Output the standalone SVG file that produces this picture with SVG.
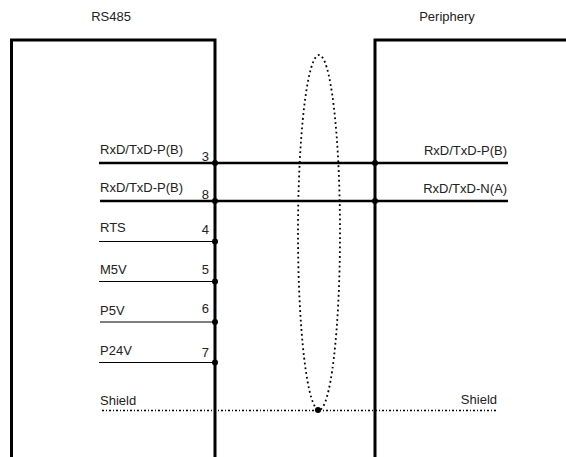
<svg xmlns="http://www.w3.org/2000/svg" width="566" height="457" viewBox="0 0 566 457">
<style>
text{font-family:"Liberation Sans",Arial,sans-serif;font-size:13px;fill:#222}
.r{text-anchor:end}
.thick{stroke:#000;stroke-width:3;fill:none}
.bus{stroke:#000;stroke-width:2.5;fill:none}
.thin{stroke:#000;stroke-width:1.2;fill:none}
.dot{fill:#000}
.ell{stroke:#000;stroke-width:1.8;fill:none;stroke-dasharray:1.8 3}
.shield{stroke:#000;stroke-width:1.6;fill:none;stroke-dasharray:2 2 1 2}
</style>
<rect width="566" height="457" fill="#fff"/>
<g id="rs485">
<text x="111" y="21" text-anchor="middle">RS485</text>
<path class="thick" d="M11.5,457 V40 H215 V457"/>
<text x="100" y="154">RxD/TxD-P(B)</text>
<text x="209" y="161" class="r">3</text>
<text x="100" y="192">RxD/TxD-P(B)</text>
<text x="209" y="199" class="r">8</text>
<text x="100" y="232">RTS</text>
<text x="209" y="234" class="r">4</text>
<text x="100" y="274">M5V</text>
<text x="209" y="274" class="r">5</text>
<text x="100" y="315">P5V</text>
<text x="209" y="313" class="r">6</text>
<text x="100" y="355">P24V</text>
<text x="209" y="357" class="r">7</text>
<text x="100" y="405">Shield</text>
</g>
<g id="periphery">
<text x="447" y="21" text-anchor="middle">Periphery</text>
<path class="thick" d="M375,457 V40 H566"/>
<text x="507" y="155" class="r">RxD/TxD-P(B)</text>
<text x="507" y="193" class="r">RxD/TxD-N(A)</text>
<text x="497" y="404" class="r">Shield</text>
</g>
<g id="shield-ellipse">
<ellipse class="ell" cx="319" cy="232.5" rx="21" ry="177.5"/>
</g>
<g id="connectors">
<line class="bus" x1="99" y1="163" x2="508" y2="163"/>
<line class="bus" x1="100" y1="201" x2="508" y2="201"/>
<line class="thin" x1="99" y1="241.5" x2="215" y2="241.5"/>
<line class="thin" x1="99" y1="281.5" x2="215" y2="281.5"/>
<line class="thin" x1="100" y1="322" x2="215" y2="322"/>
<line class="thin" x1="99" y1="362.5" x2="215" y2="362.5"/>
<line class="shield" x1="102" y1="410.5" x2="496" y2="410.5"/>
<circle class="dot" cx="215" cy="163" r="3"/>
<circle class="dot" cx="375" cy="163" r="3"/>
<circle class="dot" cx="215" cy="201" r="3"/>
<circle class="dot" cx="375" cy="201" r="3"/>
<circle class="dot" cx="215" cy="241.5" r="3"/>
<circle class="dot" cx="215" cy="281.5" r="3"/>
<circle class="dot" cx="215" cy="322" r="3"/>
<circle class="dot" cx="215" cy="362.5" r="3"/>
<circle class="dot" cx="318" cy="410" r="3"/>
</g>
</svg>
